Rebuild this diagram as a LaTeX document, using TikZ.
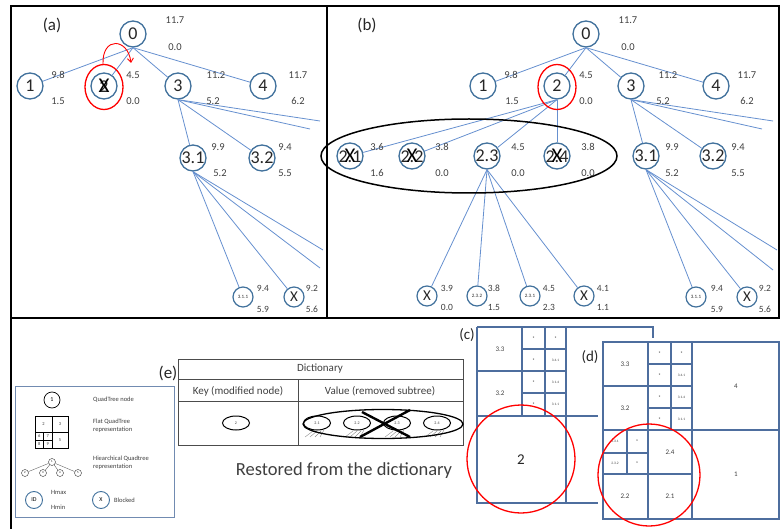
\documentclass[tikz,border=0pt]{standalone}
\usepackage{fontspec}
\setmainfont{Carlito}
\usetikzlibrary{arrows.meta,shapes.geometric}
\definecolor{nodeblue}{HTML}{41719C}
\definecolor{edgeblue}{HTML}{6690CF}
\definecolor{gridblue}{HTML}{4E6E9E}
\definecolor{txt}{HTML}{3F3F3F}
\newcommand\fsz[1]{\fontsize{#1}{#1}\selectfont}
\newcommand\hlv[6]{\node[val] (#1h) at (#2,#3) {#4}; \node[val] (#1l) at (#2,#5) {#6};}
\newcommand\crossed[1]{\makebox[0pt]{#1}\makebox[0pt]{\fsz{21}\color{black}X}}
\begin{document}
\begin{tikzpicture}[x=1pt,y=-1pt,
  tn/.style={circle, draw=nodeblue, line width=1.3pt, minimum size=26pt, inner sep=0pt, font=\fsz{18}, text=black!85},
  lf/.style={circle, draw=nodeblue, line width=1.2pt, minimum size=20pt, inner sep=0pt, font=\fsz{15}, text=black!85},
  lft/.style={lf, font=\fsz{5}},
  val/.style={font=\fsz{10.5}, text=txt, inner sep=0pt},
  lval/.style={font=\fsz{9.5}, text=txt, inner sep=0pt},
  ed/.style={draw=edgeblue, line width=0.8pt},
  grd/.style={draw=gridblue, line width=1.4pt},
  gl/.style={font=\fsz{7}, text=txt, inner sep=0pt},
  tiny/.style={font=\fsz{3.5}, text=txt, inner sep=0pt},
  frame/.style={draw=black, line width=1.5pt},
  plabel/.style={font=\fsz{17}, text=black!85, inner sep=0pt}]
\useasboundingbox (0,0) rectangle (784,529);
% frames
\draw[frame] (11,6) rectangle (327,318);
\draw[frame] (327,6) rectangle (779,318);
\draw[frame] (11,318) -- (11,529);
% ================= panel (a)
\node[plabel] (la) at (52,25) {(a)};
\node[tn] (a0) at (133,34) {0};
\node[tn] (a1) at (30,86) {1};
\node[tn] (a2) at (104,86) {\crossed{2}};
\node[tn] (a3) at (178,86) {3};
\node[tn] (a4) at (263,86) {4};
\node[tn] (a31) at (193,158) {3.1};
\node[tn] (a32) at (262,158) {3.2};
\node[lft] (a311) at (243,297) {3.1.1};
\node[lf] (a31x) at (294,297) {X};
\coordinate (a3e1) at (320,121);
\coordinate (a3e2) at (310,129);
\coordinate (a31e1) at (323,250);
\coordinate (a31e2) at (320,268);
\foreach \c in {a1,a2,a3,a4} \draw[ed] (a0.south) -- (\c);
\foreach \c in {a31,a32,a3e1,a3e2} \draw[ed] (a3.south) -- (\c);
\foreach \c in {a311,a31x,a31e1,a31e2} \draw[ed] (a31.south) -- (\c);
\node[draw=red, line width=1.3pt, ellipse, minimum width=38pt, minimum height=45pt, inner sep=0pt] (a2r) at (104,87) {};
\coordinate (arS) at (103,64);
\coordinate (arE) at (131,63);
\draw[red, line width=0.9pt, -{Straight Barb[length=4pt,width=6pt]}] (arS) .. controls (102,36) and (128,38) .. (arE);
\hlv{a0v}{175}{20}{11.7}{47}{0.0}
\hlv{a1v}{58}{75}{9.8}{101}{1.5}
\hlv{a2v}{133}{75}{4.5}{101}{0.0}
\node[val] (a3vh) at (216,75) {11.2}; \node[val] (a3vl) at (213,101) {5.2};
\hlv{a4v}{298}{75}{11.7}{101}{6.2}
\node[val] (a31vh) at (218,147) {9.9}; \node[val] (a31vl) at (220,173) {5.2};
\hlv{a32v}{285}{147}{9.4}{173}{5.5}
\node[lval] (a311vh) at (263,288) {9.4}; \node[lval] (a311vl) at (263,309) {5.9};
\node[lval] (a31xvh) at (312,288) {9.2}; \node[lval] (a31xvl) at (312,309) {5.6};
% ================= panel (b)
\node[plabel] (lb) at (367,25) {(b)};
\node[tn] (b0) at (586,34) {0};
\node[tn] (b1) at (483,86) {1};
\node[tn] (b2) at (557,86) {2};
\node[tn] (b3) at (631,86) {3};
\node[tn] (b4) at (716,86) {4};
\node[tn] (b21) at (350,156) {\crossed{2.1}};
\node[tn] (b22) at (412,156) {\crossed{2.2}};
\node[tn] (b23) at (487,156) {2.3};
\node[tn] (b24) at (557,156) {\crossed{2.4}};
\node[tn] (b31) at (646,156) {3.1};
\node[tn] (b32) at (713,156) {3.2};
\node[lf] (b231) at (427,296) {X};
\node[lft] (b232) at (477,296) {2.3.2};
\node[lft] (b233) at (530,296) {2.3.1};
\node[lf] (b234) at (584,296) {X};
\node[lft] (b311) at (696,297) {3.1.1};
\node[lf] (b31x) at (747,297) {X};
\coordinate (b3e1) at (773,121);
\coordinate (b3e2) at (762,129);
\coordinate (b31e1) at (777,250);
\coordinate (b31e2) at (773,270);
\foreach \c in {b1,b2,b3,b4} \draw[ed] (b0.south) -- (\c);
\foreach \c in {b21,b22,b23,b24} \draw[ed] (b2.south) -- (\c);
\foreach \c in {b31,b32,b3e1,b3e2} \draw[ed] (b3.south) -- (\c);
\foreach \c in {b231,b232,b233,b234} \draw[ed] (b23.south) -- (\c);
\foreach \c in {b311,b31x,b31e1,b31e2} \draw[ed] (b31.south) -- (\c);
\node[draw=red, line width=1.3pt, ellipse, minimum width=38pt, minimum height=45pt, inner sep=0pt] (b2r) at (557,87) {};
\node[draw=black, line width=1.5pt, ellipse, minimum width=296pt, minimum height=74pt, inner sep=0pt] (bell) at (469,156) {};
\hlv{b0v}{628}{20}{11.7}{47}{0.0}
\node[val] (b1vh) at (511,75) {9.8}; \node[val] (b1vl) at (512,101) {1.5};
\hlv{b2v}{586}{75}{4.5}{101}{0.0}
\node[val] (b3vh) at (668,75) {11.2}; \node[val] (b3vl) at (663,101) {5.2};
\hlv{b4v}{747}{75}{11.7}{101}{6.2}
\hlv{b21v}{377}{147}{3.6}{173}{1.6}
\hlv{b22v}{442}{147}{3.8}{173}{0.0}
\hlv{b23v}{518}{147}{4.5}{173}{0.0}
\hlv{b24v}{588}{147}{3.8}{173}{0.0}
\hlv{b31v}{672}{147}{9.9}{173}{5.2}
\hlv{b32v}{738}{147}{9.4}{173}{5.5}
\node[lval] (b231vh) at (447,288) {3.9}; \node[lval] (b231vl) at (447,307) {0.0};
\node[lval] (b232vh) at (494,288) {3.8}; \node[lval] (b232vl) at (494,307) {1.5};
\node[lval] (b233vh) at (549,288) {4.5}; \node[lval] (b233vl) at (549,307) {2.3};
\node[lval] (b234vh) at (603,288) {4.1}; \node[lval] (b234vl) at (603,307) {1.1};
\node[lval] (b311vh) at (717,288) {9.4}; \node[lval] (b311vl) at (717,309) {5.9};
\node[lval] (b31xvh) at (765,288) {9.2}; \node[lval] (b31xvl) at (765,309) {5.6};
% ================= legend
\draw[draw=gridblue!80, line width=0.8pt] (15,386) rectangle (174,517);
\node[circle, draw=black, line width=0.7pt, minimum size=16pt, inner sep=0pt, font=\fsz{6}] (lg1) at (52,400) {1};
\node[gl, anchor=west, font=\fsz{6.5}] (lgt1) at (93,400) {QuadTree node};
\draw[black, line width=0.6pt] (35,416) rectangle (68,448);
\draw[black, line width=0.6pt] (52,416) -- (52,448) (35,432) -- (68,432) (43.5,432) -- (43.5,448) (35,440) -- (52,440);
\node[tiny, font=\fsz{4.5}] (lgf2) at (43.5,424) {2};
\node[tiny, font=\fsz{4.5}] (lgf3) at (60,424) {3};
\node[tiny, font=\fsz{4.5}] (lgf5) at (60,440) {5};
\node[tiny, font=\fsz{4.5}] (lgf6) at (39.2,436) {6};
\node[tiny, font=\fsz{4.5}] (lgf7) at (47.8,436) {7};
\node[tiny, font=\fsz{4.5}] (lgf8) at (39.2,444) {8};
\node[tiny, font=\fsz{4.5}] (lgf9) at (47.8,444) {9};
\node[gl, anchor=west, font=\fsz{6.5}, align=left] (lgt2) at (93,426) {Flat QuadTree\\[1pt]representation};
\node[circle, draw=black!80, line width=0.4pt, minimum size=7pt, inner sep=0pt, font=\fsz{3}] (lh1) at (52,462) {1};
\foreach \n/\x/\t in {lh2/25/2, lh3/43/3, lh4/60/4, lh5/78/5}
  \node[circle, draw=black!80, line width=0.4pt, minimum size=7pt, inner sep=0pt, font=\fsz{3}] (\n) at (\x,473) {\t};
\foreach \n in {lh2,lh3,lh4,lh5} \draw[black!60, line width=0.4pt] (lh1) -- (\n);
\node[gl, anchor=west, font=\fsz{6.5}, align=left] (lgt3) at (93,463) {Hiearchical Quadtree\\[1pt]representation};
\node[circle, draw=nodeblue, line width=0.9pt, minimum size=17pt, inner sep=0pt, font=\fsz{6}] (lgid) at (34,500) {ID};
\node[gl, anchor=west, font=\fsz{6.5}] (lghx) at (51,492) {Hmax};
\node[gl, anchor=west, font=\fsz{6.5}] (lghn) at (51,507) {Hmin};
\node[circle, draw=nodeblue, line width=0.9pt, minimum size=17pt, inner sep=0pt, font=\fsz{6}] (lgx) at (101,500) {X};
\node[gl, anchor=west, font=\fsz{6.5}] (lgbl) at (114,500) {Blocked};
% ================= dictionary (e)
\node[plabel] (le) at (168,373) {(e)};
\draw[black!70, line width=0.8pt] (178,359) rectangle (463,445);
\draw[black!70, line width=0.8pt] (178,379) -- (463,379) (178,401) -- (463,401) (298,379) -- (298,445);
\node[font=\fsz{11}, text=txt, inner sep=0pt] (dt) at (320,369) {Dictionary};
\node[font=\fsz{11}, text=txt, inner sep=0pt] (dk) at (238,391) {Key (modified node)};
\node[font=\fsz{11}, text=txt, inner sep=0pt] (dv) at (380,391) {Value (removed subtree)};
\node[ellipse, draw=black, line width=1pt, minimum width=27pt, minimum height=14pt, inner sep=0pt, font=\fsz{4}, text=txt] (dkey) at (236,423) {2};
\foreach \n/\x/\t in {ds1/317/2.1, ds2/357/2.2, ds3/397/2.3, ds4/437/2.4}{
  \node[ellipse, draw=black, line width=1pt, minimum width=27pt, minimum height=14pt, inner sep=0pt, font=\fsz{4}, text=txt] (\n) at (\x,423) {\t};
  \draw[black!45, line width=0.4pt] (\x-4,431) -- (\x-12,437) (\x,431) -- (\x-7,437) (\x+4,431) -- (\x-2,437) (\x+7,430) -- (\x+3,437);
}
\node[ellipse, draw=black, line width=1.3pt, minimum width=160pt, minimum height=29pt, inner sep=0pt] (dbig) at (383,424) {};
\coordinate (dxa) at (360,437); \coordinate (dxb) at (410,410);
\coordinate (dxc) at (362,412); \coordinate (dxd) at (410,437);
\draw[black, line width=2.4pt] (dxa) -- (dxb) (dxc) -- (dxd);
\node[font=\fsz{18.5}, text=txt, inner sep=0pt] (rest) at (344,471) {Restored from the dictionary};
% ================= grid (c)
\node[plabel, font=\fsz{15}] (lc) at (467,335) {(c)};
\draw[grd] (477,327) -- (653,327) -- (653,345);
\draw[grd] (477,327) -- (477,503) -- (598,503);
\draw[grd] (477,416) -- (598,416);
\draw[grd] (522,327) -- (522,416) (545,327) -- (545,416) (566,327) -- (566,503);
\draw[grd] (477,371) -- (566,371) (522,349) -- (566,349) (522,393) -- (566,393);
\node[gl] (c33) at (500,349) {3.3};
\node[gl] (c32) at (500,393) {3.2};
\foreach \n/\x/\y/\t in {cs1/533.5/338/x, cs2/555.5/338/x, cs3/533.5/360/x, cs4/555.5/360/3.4.1, cs5/533.5/382/x, cs6/555.5/382/3.1.4, cs7/533.5/404/x, cs8/555.5/404/3.1.1}
  \node[tiny] (\n) at (\x,\y) {\t};
\node[font=\fsz{15}, text=black!85, inner sep=0pt] (c2) at (521,460) {2};
\node[circle, draw=red, line width=1.3pt, minimum size=108pt, inner sep=0pt] (cred) at (521,459) {};
% ================= grid (d)
\fill[white] (598,338) rectangle (784,524);
\node[plabel, font=\fsz{15}] (ld) at (590,357) {(d)};
\draw[grd] (603,342) rectangle (779,519);
\draw[grd] (648,342) -- (648,519) (671,342) -- (671,430) (692,342) -- (692,519);
\draw[grd] (648,364) -- (692,364) (603,386) -- (692,386) (648,408) -- (692,408);
\draw[grd] (603,430) -- (779,430) (603,474) -- (692,474);
\draw[grd] (627,430) -- (627,474) (603,453) -- (648,453);
\node[gl] (d33) at (625,364) {3.3};
\node[gl] (d32) at (625,408) {3.2};
\foreach \n/\x/\y/\t in {dsa/659.5/353/x, dsb/681.5/353/x, dsc/659.5/375/x, dsd/681.5/375/3.4.1, dse/659.5/397/x, dsf/681.5/397/3.1.4, dsg/659.5/419/x, dsh/681.5/419/3.1.1, dsi/615/441/2.3.1, dsj/637/441/x, dsk/615/463/2.3.2, dsl/637/463/x}
  \node[tiny] (\n) at (\x,\y) {\t};
\node[gl] (d4) at (736,386) {4};
\node[gl] (d1) at (736,474) {1};
\node[gl] (d24) at (670,452) {2.4};
\node[gl] (d22) at (625,496) {2.2};
\node[gl] (d21) at (670,496) {2.1};
\node[circle, draw=red, line width=1.3pt, minimum size=102pt, inner sep=0pt] (dred) at (649,475) {};
\end{tikzpicture}
\end{document}
